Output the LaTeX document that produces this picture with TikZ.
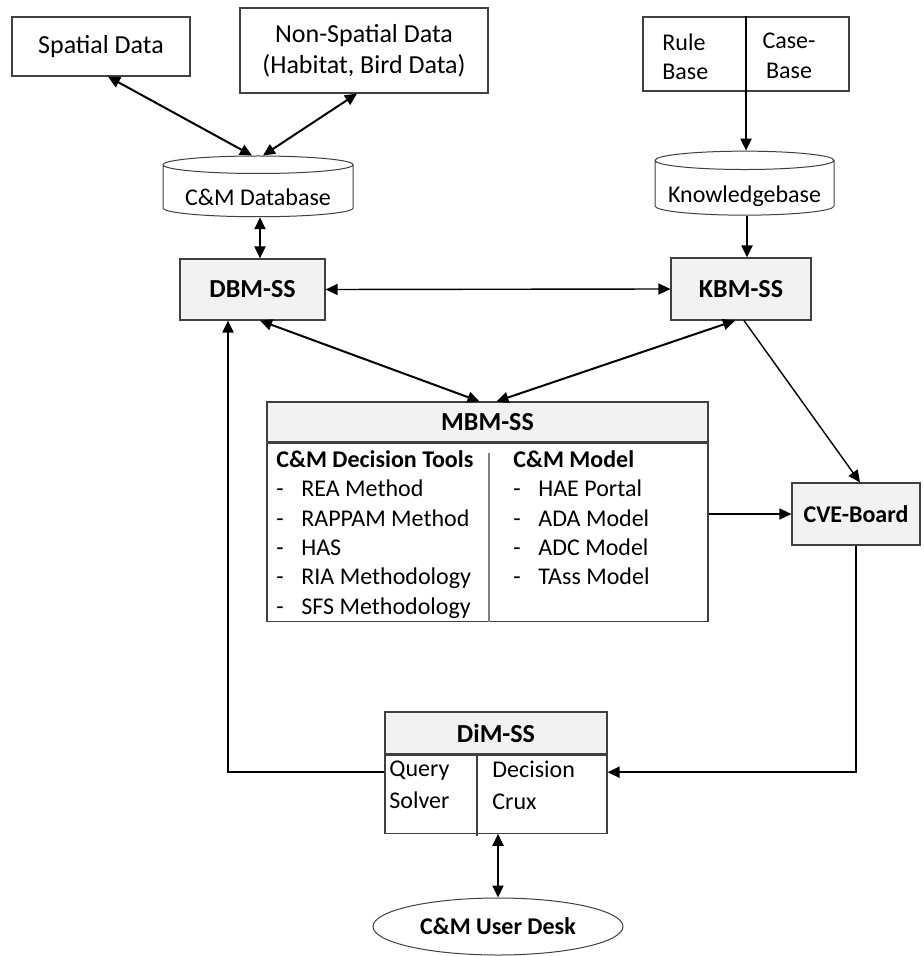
\documentclass[tikz,border=0pt]{standalone}
\usepackage{fontspec}
\setmainfont{Carlito}
\usetikzlibrary{positioning,shapes.geometric,arrows.meta}

\newcommand{\bul}[1]{\makebox[12.5pt][l]{-}#1}

\begin{document}
\begin{tikzpicture}[x=0.5pt,y=-0.5pt,>={Triangle[length=6pt,width=5.5pt]},
    box/.style={draw=black!75, line width=0.6pt, fill=white, inner sep=0pt, align=center},
    grey/.style={box, fill=black!5},
    store/.style={draw=black!75, line width=0.5pt, fill=white, cylinder, shape border rotate=90, aspect=0.12, inner sep=0pt, text height=16pt, text depth=1pt},
    txt/.style={inner sep=0pt, align=left, anchor=north west},
    big/.style={font=\fontsize{13}{15.5}\selectfont},
    small/.style={font=\fontsize{12}{14.7}\selectfont},
    bigbold/.style={font=\fontsize{13}{15.5}\selectfont\bfseries},
    smallbold/.style={font=\fontsize{12}{14.7}\selectfont\bfseries},
    heavy/.style={line width=1pt},
    light/.style={line width=0.7pt}]

\useasboundingbox (0,0) rectangle (923,956);

% sources
\node[box,big,minimum width=89pt,minimum height=29.5pt] (spatial) at (101,46.5) {Spatial Data};
\node[box,big,minimum width=124pt,minimum height=42.5pt] (nonspatial) at (364,50.5) {Non-Spatial Data\\(Habitat, Bird Data)};
\node[box,minimum width=103pt,minimum height=37pt] (rules) at (746,54) {};
\node[txt,small] (rulebase) at (662,33) {Rule\\Base};
\node[small,inner sep=0pt,align=center,anchor=north] (casebase) at (789,33) {Case-\\Base};

% stores
\node[store,small,minimum width=95pt,minimum height=30pt] (db) at (258,191) {C\&M Database};
\node[store,small,minimum width=89.5pt,minimum height=32pt] (kb) at (744.5,188) {Knowledgebase};

% sub-systems
\node[grey,bigbold,minimum width=72.5pt,minimum height=30.5pt] (dbm) at (252.5,289.5) {DBM-SS};
\node[grey,bigbold,minimum width=70pt,minimum height=31pt] (kbm) at (741,289) {KBM-SS};

\node[grey,bigbold,minimum width=220.5pt,minimum height=20pt] (mbm) at (487.5,422) {MBM-SS};
\node[box,minimum width=220.5pt,minimum height=89pt,below=0pt of mbm] (mbmbody) {};
\draw[black!50,line width=0.8pt] ([xshift=0.75pt,yshift=-5pt]mbmbody.north) -- ([xshift=0.75pt]mbmbody.south);
\node[txt,small] (tools) at (276,450) {\textbf{C\&M Decision Tools}\\\bul{REA Method}\\\bul{RAPPAM Method}\\\bul{HAS}\\\bul{RIA Methodology}\\\bul{SFS Methodology}};
\node[txt,small] (models) at (513,450) {\textbf{C\&M Model}\\\bul{HAE Portal}\\\bul{ADA Model}\\\bul{ADC Model}\\\bul{TAss Model}};

\node[grey,smallbold,minimum width=64pt,minimum height=31pt] (cve) at (856,514) {CVE-Board};

\node[grey,bigbold,minimum width=111pt,minimum height=21pt] (dim) at (496,733) {DiM-SS};
\node[box,minimum width=111pt,minimum height=39pt,below=0pt of dim] (dimbody) {};
\draw[black!75,line width=0.6pt] ([xshift=-9.5pt]dimbody.north) -- ([xshift=-9.5pt,yshift=-1pt]dimbody.south);
\node[txt,font=\fontsize{12}{16}\selectfont] (query) at (389,761) {Query\\Solver};
\node[txt,font=\fontsize{12}{16}\selectfont] (crux) at (492,761) {Decision\\Crux};

\node[draw=black!75,line width=0.5pt,ellipse,inner sep=0pt,smallbold,minimum width=125pt,minimum height=28.5pt] (desk) at (498,926.5) {C\&M User Desk};

% links
\draw[heavy,<->] ([xshift=3.5pt]spatial.south) -- ([xshift=-3pt]db.north);
\draw[heavy,<->] ([xshift=-3.5pt]nonspatial.south) -- ([xshift=2.5pt]db.north);
\draw[heavy,<->] ([xshift=1pt]db.south) -- ([xshift=1pt]db.south |- dbm.north);
\draw[heavy,->] (rules.north) -- (rules.north |- kb.north);
\draw[heavy,->] ([xshift=1.25pt]kb.south) -- ([xshift=1.25pt]kb.south |- kbm.north);
\draw[light,<->] (dbm.east) -- (kbm.west);
\draw[heavy,<->] ([xshift=3.75pt]dbm.south) -- ([xshift=-4pt]mbm.north);
\draw[heavy,<->] ([xshift=-3pt]kbm.south) -- ([xshift=4.5pt]mbm.north);
\draw[light,->] ([xshift=1.5pt]kbm.south) -- ([xshift=2pt]cve.north);
\draw[light,->] (cve.west -| mbmbody.east) -- (cve.west);
\draw[heavy,->] ([yshift=11pt]dimbody.west) -| ([xshift=-12.25pt]dbm.south);
\draw[heavy,->] (cve.south) |- ([yshift=11pt]dimbody.east);
\draw[heavy,<->] (desk.north |- dimbody.south) -- (desk.north);
\end{tikzpicture}
\end{document}
